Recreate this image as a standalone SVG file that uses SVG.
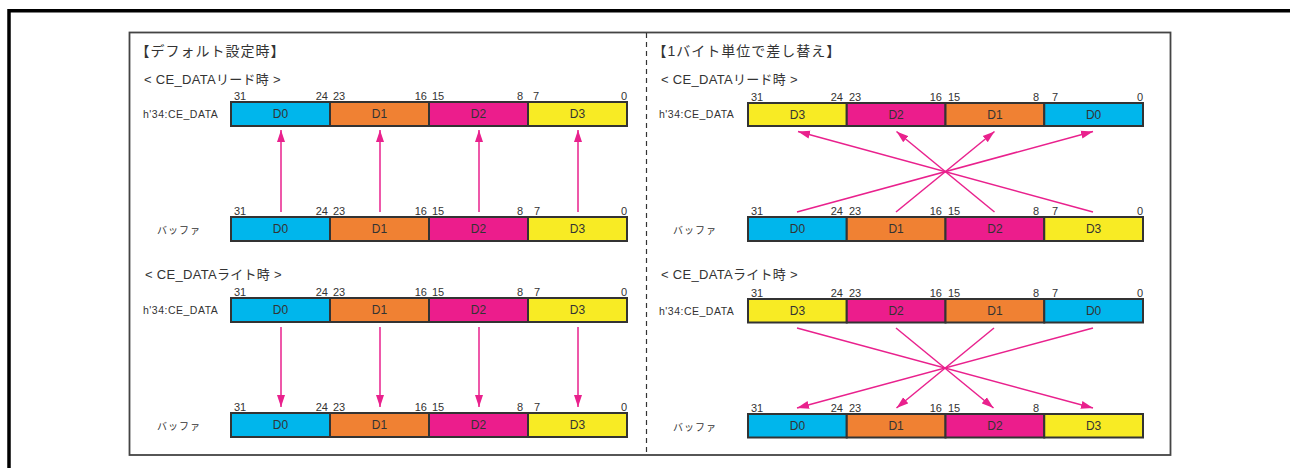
<svg xmlns="http://www.w3.org/2000/svg" width="1290" height="468" viewBox="0 0 1290 468">
<style>
.t{font-family:"Liberation Sans","Noto Sans CJK JP",sans-serif;fill:#333}
.title{font-size:14px;letter-spacing:1px}
.sub{font-size:13px;letter-spacing:0.3px}
.lbl{font-size:10.5px;letter-spacing:0.5px}
.buf{font-size:10px;letter-spacing:1px}
.bit{font-size:11px}
.cell{stroke:#333;stroke-width:2}
.dt{font-size:12px;text-anchor:middle}
.c0{fill:#00B6EC}.c1{fill:#F08133}.c2{fill:#EC1D8C}.c3{fill:#F8EB24}
.ar{stroke:#E9218D;stroke-width:1.5;fill:none;marker-end:url(#ah)}
.e{text-anchor:end}
</style>
<defs>
<marker id="ah" markerUnits="userSpaceOnUse" markerWidth="13" markerHeight="9" refX="12" refY="4" orient="auto" viewBox="0 0 13 8">
<path d="M0,0 L12,4 L0,8 z" fill="#E9218D"/>
</marker>
</defs>
<rect width="1290" height="468" fill="#fff"/>
<rect id="outer-frame" x="9" y="10.75" width="1300" height="500" fill="none" stroke="#000" stroke-width="3.5"/>
<rect id="panel" x="129.5" y="32.5" width="1041" height="422.5" fill="#fff" stroke="#444" stroke-width="1.8"/>
<line id="divider" x1="646.5" y1="33" x2="646.5" y2="454" stroke="#333" stroke-width="1.2" stroke-dasharray="5 4"/>

<g id="left-titles">
<text class="t title" x="135.5" y="55.5">【デフォルト設定時】</text>
<text class="t sub" x="144" y="83.5">&lt; CE_DATAリード時 &gt;</text>
<text class="t sub" x="145" y="279">&lt; CE_DATAライト時 &gt;</text>
</g>
<g id="right-titles">
<text class="t title" x="652.5" y="56">【1バイト単位で差し替え】</text>
<text class="t sub" x="661" y="83.5">&lt; CE_DATAリード時 &gt;</text>
<text class="t sub" x="661" y="279">&lt; CE_DATAライト時 &gt;</text>
</g>

<g id="L-reg-read">
<text class="t lbl" x="143" y="117.5">h'34:CE_DATA</text>
<text class="t bit" x="234" y="100">31</text><text class="t bit e" x="328" y="100">24</text>
<text class="t bit" x="333" y="100">23</text><text class="t bit e" x="427" y="100">16</text>
<text class="t bit" x="432" y="100">15</text><text class="t bit e" x="523" y="100">8</text>
<text class="t bit" x="533" y="100">7</text><text class="t bit e" x="627" y="100">0</text>
<rect class="cell c0" x="231" y="102" width="99" height="24"/>
<rect class="cell c1" x="330" y="102" width="99" height="24"/>
<rect class="cell c2" x="429" y="102" width="99" height="24"/>
<rect class="cell c3" x="528" y="102" width="99" height="24"/>
<text class="t dt" x="280.5" y="118">D0</text><text class="t dt" x="379.5" y="118">D1</text>
<text class="t dt" x="478.5" y="118">D2</text><text class="t dt" x="577.5" y="118">D3</text>
</g>
<g id="L-buf-read">
<text class="t buf" x="157" y="234">バッファ</text>
<text class="t bit" x="234" y="215">31</text><text class="t bit e" x="328" y="215">24</text>
<text class="t bit" x="333" y="215">23</text><text class="t bit e" x="427" y="215">16</text>
<text class="t bit" x="432" y="215">15</text><text class="t bit e" x="523" y="215">8</text>
<text class="t bit" x="534" y="215">7</text><text class="t bit e" x="627" y="215">0</text>
<rect class="cell c0" x="231" y="217" width="99" height="24"/>
<rect class="cell c1" x="330" y="217" width="99" height="24"/>
<rect class="cell c2" x="429" y="217" width="99" height="24"/>
<rect class="cell c3" x="528" y="217" width="99" height="24"/>
<text class="t dt" x="280.5" y="233">D0</text><text class="t dt" x="379.5" y="233">D1</text>
<text class="t dt" x="478.5" y="233">D2</text><text class="t dt" x="577.5" y="233">D3</text>
</g>
<g id="L-reg-write">
<text class="t lbl" x="143" y="314">h'34:CE_DATA</text>
<text class="t bit" x="234" y="296">31</text><text class="t bit e" x="328" y="296">24</text>
<text class="t bit" x="333" y="296">23</text><text class="t bit e" x="427" y="296">16</text>
<text class="t bit" x="432" y="296">15</text><text class="t bit e" x="523" y="296">8</text>
<text class="t bit" x="534" y="296">7</text><text class="t bit e" x="627" y="296">0</text>
<rect class="cell c0" x="231" y="298" width="99" height="24"/>
<rect class="cell c1" x="330" y="298" width="99" height="24"/>
<rect class="cell c2" x="429" y="298" width="99" height="24"/>
<rect class="cell c3" x="528" y="298" width="99" height="24"/>
<text class="t dt" x="280.5" y="314">D0</text><text class="t dt" x="379.5" y="314">D1</text>
<text class="t dt" x="478.5" y="314">D2</text><text class="t dt" x="577.5" y="314">D3</text>
</g>
<g id="L-buf-write">
<text class="t buf" x="157" y="430">バッファ</text>
<text class="t bit" x="234" y="411">31</text><text class="t bit e" x="328" y="411">24</text>
<text class="t bit" x="333" y="411">23</text><text class="t bit e" x="427" y="411">16</text>
<text class="t bit" x="432" y="411">15</text><text class="t bit e" x="523" y="411">8</text>
<text class="t bit" x="534" y="411">7</text><text class="t bit e" x="627" y="411">0</text>
<rect class="cell c0" x="231" y="413" width="99" height="24"/>
<rect class="cell c1" x="330" y="413" width="99" height="24"/>
<rect class="cell c2" x="429" y="413" width="99" height="24"/>
<rect class="cell c3" x="528" y="413" width="99" height="24"/>
<text class="t dt" x="280.5" y="429">D0</text><text class="t dt" x="379.5" y="429">D1</text>
<text class="t dt" x="478.5" y="429">D2</text><text class="t dt" x="577.5" y="429">D3</text>
</g>

<g id="R-reg-read">
<text class="t lbl" x="659" y="118">h'34:CE_DATA</text>
<text class="t bit" x="751" y="101">31</text><text class="t bit e" x="843" y="101">24</text>
<text class="t bit" x="849" y="101">23</text><text class="t bit e" x="942" y="101">16</text>
<text class="t bit" x="948" y="101">15</text><text class="t bit e" x="1039" y="101">8</text>
<text class="t bit" x="1052" y="101">7</text><text class="t bit e" x="1143" y="101">0</text>
<rect class="cell c3" x="748" y="103" width="98.75" height="23"/>
<rect class="cell c2" x="846.75" y="103" width="98.75" height="23"/>
<rect class="cell c1" x="945.5" y="103" width="98.75" height="23"/>
<rect class="cell c0" x="1044.25" y="103" width="98.75" height="23"/>
<text class="t dt" x="797.4" y="118.5">D3</text><text class="t dt" x="896.1" y="118.5">D2</text>
<text class="t dt" x="994.9" y="118.5">D1</text><text class="t dt" x="1093.6" y="118.5">D0</text>
</g>
<g id="R-buf-read">
<text class="t buf" x="673" y="234">バッファ</text>
<text class="t bit" x="751" y="215">31</text><text class="t bit e" x="843" y="215">24</text>
<text class="t bit" x="849" y="215">23</text><text class="t bit e" x="942" y="215">16</text>
<text class="t bit" x="948" y="215">15</text><text class="t bit e" x="1039" y="215">8</text>
<text class="t bit" x="1052" y="215">7</text><text class="t bit e" x="1143" y="215">0</text>
<rect class="cell c0" x="748" y="217" width="98.75" height="24"/>
<rect class="cell c1" x="846.75" y="217" width="98.75" height="24"/>
<rect class="cell c2" x="945.5" y="217" width="98.75" height="24"/>
<rect class="cell c3" x="1044.25" y="217" width="98.75" height="24"/>
<text class="t dt" x="797.4" y="233">D0</text><text class="t dt" x="896.1" y="233">D1</text>
<text class="t dt" x="994.9" y="233">D2</text><text class="t dt" x="1093.6" y="233">D3</text>
</g>
<g id="R-reg-write">
<text class="t lbl" x="659" y="314.5">h'34:CE_DATA</text>
<text class="t bit" x="751" y="297">31</text><text class="t bit e" x="843" y="297">24</text>
<text class="t bit" x="849" y="297">23</text><text class="t bit e" x="942" y="297">16</text>
<text class="t bit" x="948" y="297">15</text><text class="t bit e" x="1039" y="297">8</text>
<text class="t bit" x="1052" y="297">7</text><text class="t bit e" x="1143" y="297">0</text>
<rect class="cell c3" x="748" y="299" width="98.75" height="23.5"/>
<rect class="cell c2" x="846.75" y="299" width="98.75" height="23.5"/>
<rect class="cell c1" x="945.5" y="299" width="98.75" height="23.5"/>
<rect class="cell c0" x="1044.25" y="299" width="98.75" height="23.5"/>
<text class="t dt" x="797.4" y="315">D3</text><text class="t dt" x="896.1" y="315">D2</text>
<text class="t dt" x="994.9" y="315">D1</text><text class="t dt" x="1093.6" y="315">D0</text>
</g>
<g id="R-buf-write">
<text class="t buf" x="673" y="430.5">バッファ</text>
<text class="t bit" x="751" y="412">31</text><text class="t bit e" x="843" y="412">24</text>
<text class="t bit" x="849" y="412">23</text><text class="t bit e" x="942" y="412">16</text>
<text class="t bit" x="948" y="412">15</text><text class="t bit e" x="1039" y="412">8</text>
<rect class="cell c0" x="748" y="414" width="98.75" height="23.5"/>
<rect class="cell c1" x="846.75" y="414" width="98.75" height="23.5"/>
<rect class="cell c2" x="945.5" y="414" width="98.75" height="23.5"/>
<rect class="cell c3" x="1044.25" y="414" width="98.75" height="23.5"/>
<text class="t dt" x="797.4" y="430">D0</text><text class="t dt" x="896.1" y="430">D1</text>
<text class="t dt" x="994.9" y="430">D2</text><text class="t dt" x="1093.6" y="430">D3</text>
</g>

<g id="connectors">
<line class="ar" x1="281" y1="212" x2="281" y2="130"/>
<line class="ar" x1="380" y1="212" x2="380" y2="130"/>
<line class="ar" x1="479" y1="212" x2="479" y2="130"/>
<line class="ar" x1="578" y1="212" x2="578" y2="130"/>
<line class="ar" x1="281" y1="327" x2="281" y2="407"/>
<line class="ar" x1="380" y1="327" x2="380" y2="407"/>
<line class="ar" x1="479" y1="327" x2="479" y2="407"/>
<line class="ar" x1="578" y1="327" x2="578" y2="407"/>
<line class="ar" x1="797" y1="212" x2="1093" y2="131.5"/>
<line class="ar" x1="896" y1="212" x2="994.5" y2="131.5"/>
<line class="ar" x1="994.5" y1="212" x2="896.5" y2="131.5"/>
<line class="ar" x1="1093" y1="212" x2="798" y2="131.5"/>
<line class="ar" x1="797" y1="328" x2="1093" y2="408"/>
<line class="ar" x1="896" y1="328" x2="993.5" y2="408"/>
<line class="ar" x1="994" y1="328" x2="896.5" y2="408"/>
<line class="ar" x1="1093" y1="328" x2="797" y2="408"/>
</g>
</svg>
